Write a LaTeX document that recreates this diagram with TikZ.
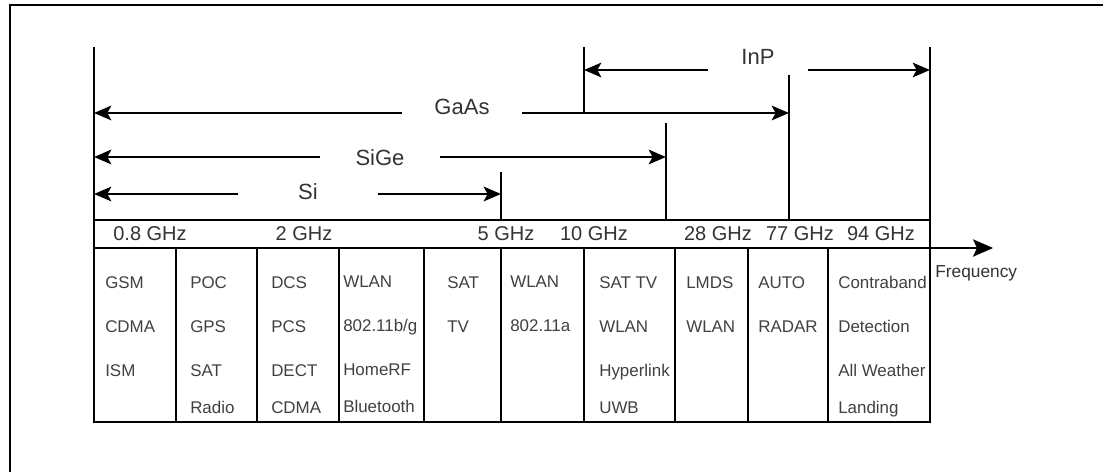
\documentclass[tikz,border=0pt]{standalone}
\usepackage{fontspec}
\setmainfont{Liberation Sans}
\usetikzlibrary{arrows.meta}

\begin{document}
\begin{tikzpicture}[x=0.75pt, y=-0.75pt,
  rule/.style={line width=1.5pt},
  arr/.style={-{Stealth[length=13pt, width=11pt, inset=3pt]}, line width=1.5pt},
  axis/.style={-{Stealth[length=15pt, width=13pt, inset=3pt]}, line width=1.5pt},
  tech/.style={font=\fontsize{16.5}{18}\selectfont, text=black!80, inner sep=0pt},
  freq/.style={font=\fontsize{15}{17}\selectfont, text=black!80, anchor=base, inner sep=0pt},
  cell/.style={font=\fontsize{12.7}{33}\selectfont, text=black!75, align=left, anchor=north west, inner sep=0pt}]
\useasboundingbox (0,0) rectangle (1103,472);
\draw[line width=2pt] (10,472) -- (10,5) -- (1103,5);
% table
\draw[rule] (94,47) -- (94,422) -- (930,422) -- (930,47);
\draw[rule] (94,220) -- (930,220);
\draw[rule] (176,248) -- (176,422) (257,248) -- (257,422) (339,248) -- (339,422)
  (424,248) -- (424,422) (501,248) -- (501,422) (584,248) -- (584,422)
  (675,248) -- (675,422) (748,248) -- (748,422) (828,248) -- (828,422);
% range limits
\draw[rule] (501,172) -- (501,220);
\draw[rule] (666,123) -- (666,220);
\draw[rule] (789,75) -- (789,220);
\draw[rule] (584,47) -- (584,113);
\coordinate (siL) at (94,194);
\coordinate (siR) at (501,194);
\coordinate (sigeL) at (94,157);
\coordinate (sigeR) at (666,157);
\coordinate (gaasL) at (94,113);
\coordinate (gaasR) at (789,113);
\coordinate (inpL) at (584,70);
\coordinate (inpR) at (930,70);
\coordinate (axL) at (94,248);
\coordinate (axR) at (993,248);
\node[tech, minimum width=105pt] (si) at (308,192) {Si};
\node[tech, minimum width=90pt] (sige) at (380,158) {SiGe};
\node[tech, minimum width=90pt] (gaas) at (462,107) {GaAs};
\node[tech, minimum width=75pt] (inp) at (758,57) {InP};
\draw[arr] (si.west |- siL) -- (siL);
\draw[arr] (si.east |- siR) -- (siR);
\draw[arr] (sige.west |- sigeL) -- (sigeL);
\draw[arr] (sige.east |- sigeR) -- (sigeR);
\draw[arr] (gaas.west |- gaasL) -- (gaasL);
\draw[arr] (gaas.east |- gaasR) -- (gaasR);
\draw[arr] (inp.west |- inpL) -- (inpL);
\draw[arr] (inp.east |- inpR) -- (inpR);
\draw[axis] (axL) -- (axR);
\node[font=\fontsize{13}{15}\selectfont, text=black!80, anchor=west, inner sep=0pt] (fq) at (935,273) {Frequency};
% frequency marks
\node[freq] (f08) at (150,240) {0.8 GHz};
\node[freq] (f2) at (304,240) {2 GHz};
\node[freq] (f5) at (506,240) {5 GHz};
\node[freq] (f10) at (594,240) {10 GHz};
\node[freq] (f28) at (718,240) {28 GHz};
\node[freq] (f77) at (800,240) {77 GHz};
\node[freq] (f94) at (881,240) {94 GHz};
% applications
\node[cell] (c1) at (105,276) {GSM\\CDMA\\ISM};
\node[cell] (c2) at (190,276) {POC\\GPS\\SAT\\[-5.25pt]Radio};
\node[cell] (c3) at (271,276) {DCS\\PCS\\DECT\\[-5.25pt]CDMA};
\node[cell] (c4) at (343,276) {WLAN\\802.11b/g\\HomeRF\\[-5.25pt]Bluetooth};
\node[cell] (c5) at (447,276) {SAT\\TV};
\node[cell] (c6) at (510,276) {WLAN\\802.11a};
\node[cell] (c7) at (599,276) {SAT TV\\WLAN\\Hyperlink\\[-5.25pt]UWB};
\node[cell] (c8) at (686,276) {LMDS\\WLAN};
\node[cell] (c9) at (758,276) {AUTO\\RADAR};
\node[cell] (c10) at (838,276) {Contraband\\Detection\\All Weather\\[-5.25pt]Landing};
\end{tikzpicture}
\end{document}
